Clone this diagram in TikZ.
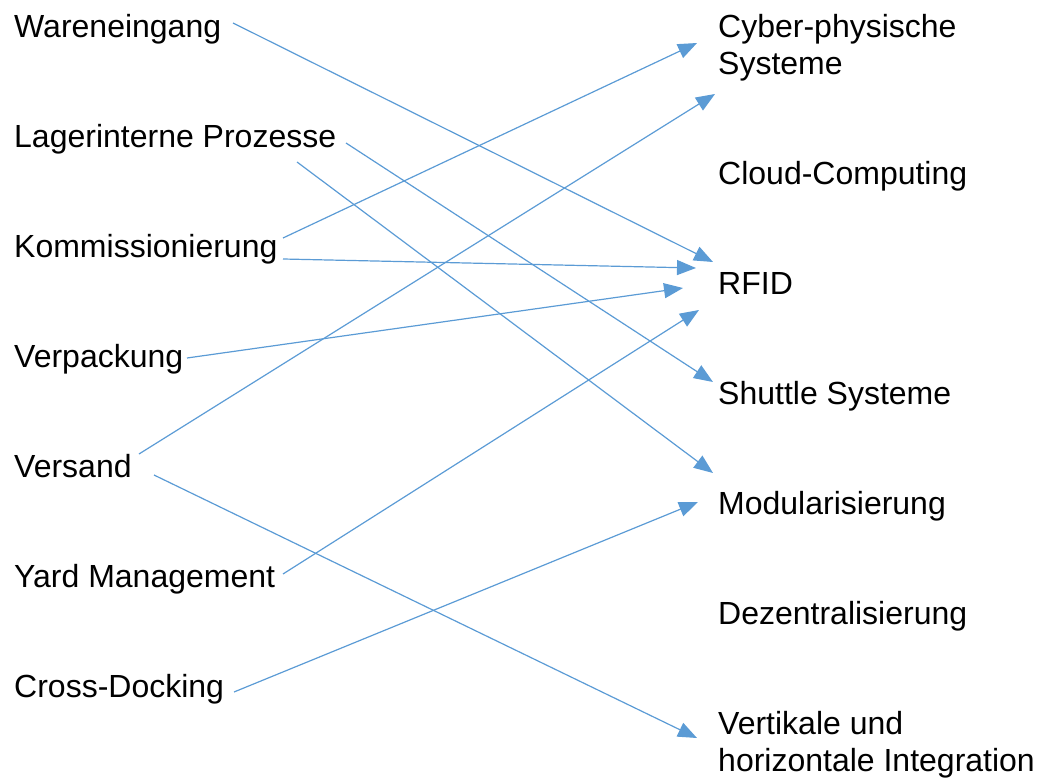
\documentclass[tikz,border=0pt]{standalone}
\usepackage{fontspec}
\setmainfont{Liberation Sans}
\usetikzlibrary{arrows.meta}
\definecolor{conn}{HTML}{5B9BD5}
\begin{document}
\begin{tikzpicture}[x=1pt,y=-1pt,
  lbl/.style={anchor=base west,inner sep=0pt,font=\fontsize{32}{37}\selectfont,text=black},
  link/.style={draw=conn,line width=1.2pt,-{Triangle[length=19pt,width=15pt]}}]
\useasboundingbox (0,0) rectangle (1040,778);
% left labels
\node[lbl] (we) at (14,37.5) {Wareneingang};
\node[lbl] (lp) at (14,147.5) {Lagerinterne Prozesse};
\node[lbl] (ko) at (14,257.5) {Kommissionierung};
\node[lbl] (vp) at (14,367.5) {Verpackung};
\node[lbl] (vs) at (14,477.5) {Versand};
\node[lbl] (ym) at (14,587.5) {Yard Management};
\node[lbl] (cd) at (14,697.5) {Cross-Docking};
% right labels
\node[lbl] (cps) at (718,37.5) {Cyber-physische};
\node[lbl] (cps2) at (718,74.5) {Systeme};
\node[lbl] (cc) at (718,184.5) {Cloud-Computing};
\node[lbl] (rf) at (718,294.5) {RFID};
\node[lbl] (ss) at (718,404.5) {Shuttle Systeme};
\node[lbl] (mo) at (718,514.5) {Modularisierung};
\node[lbl] (dz) at (718,624.5) {Dezentralisierung};
\node[lbl] (vi) at (718,734.5) {Vertikale und};
\node[lbl] (vi2) at (718,771.5) {horizontale Integration};
% connector end points
\coordinate (we-s) at (233,23);
\coordinate (lp-s1) at (346,143);
\coordinate (lp-s2) at (297,162);
\coordinate (ko-s1) at (283,238);
\coordinate (ko-s2) at (283,259);
\coordinate (vp-s) at (187,358);
\coordinate (vs-s1) at (139,454);
\coordinate (vs-s2) at (154,475);
\coordinate (ym-s) at (283,574);
\coordinate (cd-s) at (234,692);
\coordinate (cps-t1) at (697,43);
\coordinate (cps-t2) at (715,94);
\coordinate (rf-t1) at (713,262);
\coordinate (rf-t2) at (696,268);
\coordinate (rf-t3) at (683,288);
\coordinate (rf-t4) at (699,310);
\coordinate (ss-t) at (713,382);
\coordinate (mo-t1) at (713,473);
\coordinate (mo-t2) at (698,502);
\coordinate (vi-t) at (697,738);
% connectors
\draw[link] (we-s) -- (rf-t1);
\draw[link] (lp-s1) -- (ss-t);
\draw[link] (lp-s2) -- (mo-t1);
\draw[link] (ko-s1) -- (cps-t1);
\draw[link] (ko-s2) -- (rf-t2);
\draw[link] (vp-s) -- (rf-t3);
\draw[link] (vs-s1) -- (cps-t2);
\draw[link] (vs-s2) -- (vi-t);
\draw[link] (ym-s) -- (rf-t4);
\draw[link] (cd-s) -- (mo-t2);
\end{tikzpicture}
\end{document}
